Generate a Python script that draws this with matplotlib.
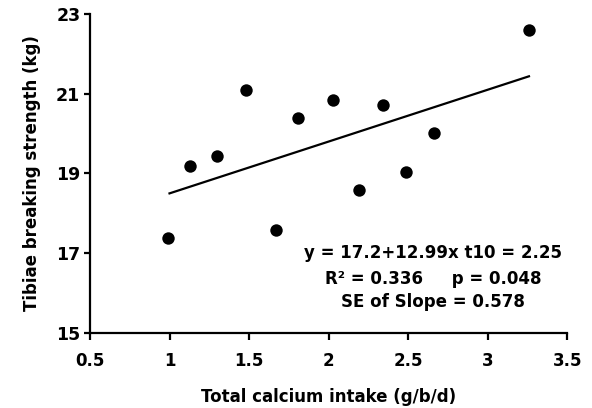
import matplotlib
matplotlib.use("Agg")
from matplotlib import pyplot as plt
import numpy as np

plt.rcParams['font.family'] = ['DejaVu Sans']

# calcium intake (g/b/d) vs tibiae breaking strength (kg)
calcium = [0.99, 1.13, 1.30, 1.48, 1.67, 1.81, 2.03, 2.19, 2.34, 2.49, 2.66, 3.26]
strength = [17.37, 19.19, 19.44, 21.09, 17.58, 20.40, 20.84, 18.58, 20.71, 19.03, 20.02, 22.59]

fit_intercept = 17.2
fit_slope = 1.299
fit_range = [1.0, 3.26]

x_ticks = [0.5, 1, 1.5, 2, 2.5, 3, 3.5]
x_tick_labels = ["0.5", "1", "1.5", "2", "2.5", "3", "3.5"]
y_ticks = [15, 17, 19, 21, 23]

stats_lines = ["y = 17.2+12.99x t10 = 2.25",
               "R\u00b2 = 0.336     p = 0.048",
               "SE of Slope = 0.578"]
stats_y = [0.251, 0.170, 0.097]

fig = plt.figure(figsize=(5.92, 4.08), dpi=100)
ax = fig.add_axes([0.152, 0.184, 0.806, 0.782])

ax.scatter(calcium, strength, s=80, color="black", zorder=3, linewidths=0)
fx = np.array(fit_range)
ax.plot(fx, fit_intercept + fit_slope * fx, color="black", lw=1.6)

ax.set_xlim(0.5, 3.5)
ax.set_ylim(15, 23)
ax.set_xticks(x_ticks)
ax.set_xticklabels(x_tick_labels)
ax.set_yticks(y_ticks)

for s in ["top", "right"]:
    ax.spines[s].set_visible(False)
for s in ["left", "bottom"]:
    ax.spines[s].set_linewidth(1.6)

ax.tick_params(axis="x", length=5, width=1.6, labelsize=12, pad=9)
ax.tick_params(axis="y", length=4, width=1.6, labelsize=12.5, pad=3)
for lbl in ax.get_xticklabels() + ax.get_yticklabels():
    lbl.set_fontweight("bold")

ax.set_xlabel("Total calcium intake (g/b/d)", fontsize=12, fontweight="bold", labelpad=13)
ax.set_ylabel("Tibiae breaking strength (kg)", fontsize=12, fontweight="bold", labelpad=11)

for t, yy in zip(stats_lines, stats_y):
    ax.text(0.719, yy, t, transform=ax.transAxes,
            ha="center", va="center", fontsize=12, fontweight="bold")

fig.savefig("out.png", dpi=100)
